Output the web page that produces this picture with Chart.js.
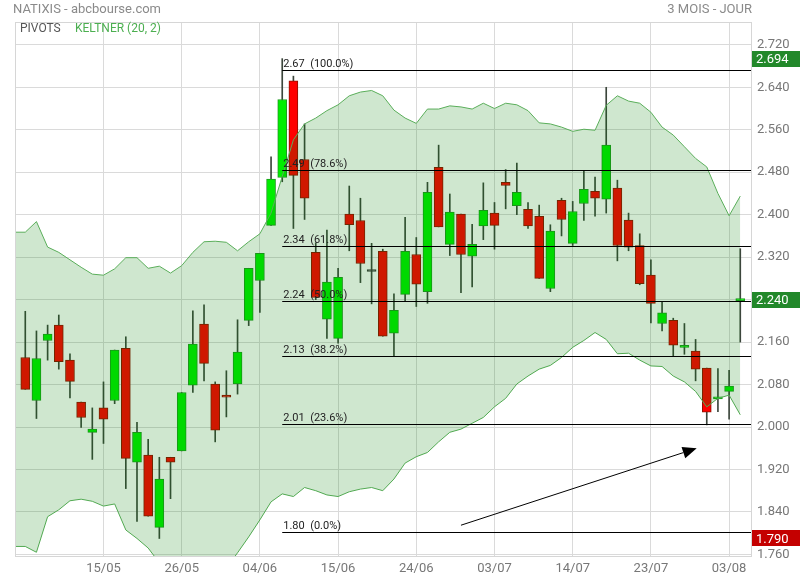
<!DOCTYPE html>
<html>
<head>
<meta charset="utf-8">
<title>NATIXIS - abcbourse.com</title>
<script src="https://cdn.jsdelivr.net/npm/chart.js@4.4.1/dist/chart.umd.min.js"></script>
<style>
    html, body { margin: 0; padding: 0; background: #fff; }
    #wrap { width: 800px; height: 580px; }
</style>
</head>
<body>
<div id="wrap"><canvas id="chart" width="800" height="580"></canvas></div>
<script>
// Daily sessions (index 0 = first candle)
const opens = [2.131, 2.050, 2.163, 2.192, 2.126, 2.047, 1.990, 2.036, 2.050, 2.148,
    1.934, 1.947, 1.811, 1.943, 1.955, 2.079, 2.194, 2.081, 2.060, 2.081,
    2.201, 2.276, 2.380, 2.470, 2.652, 2.504, 2.329, 2.203, 2.167, 2.401,
    2.389, 2.293, 2.331, 2.177, 2.250, 2.325, 2.255, 2.489, 2.344, 2.401,
    2.322, 2.379, 2.403, 2.461, 2.417, 2.410, 2.397, 2.261, 2.427, 2.346,
    2.421, 2.444, 2.429, 2.450, 2.390, 2.342, 2.286, 2.195, 2.201, 2.150,
    2.143, 2.111, 2.053, 2.067, 2.238];
const highs = [2.218, 2.181, 2.192, 2.211, 2.138, 2.047, 2.036, 2.085, 2.145, 2.170,
    2.009, 1.977, 1.943, 1.943, 2.065, 2.219, 2.230, 2.085, 2.106, 2.202,
    2.299, 2.327, 2.509, 2.694, 2.661, 2.571, 2.347, 2.371, 2.299, 2.454,
    2.431, 2.346, 2.335, 2.251, 2.395, 2.357, 2.461, 2.531, 2.439, 2.401,
    2.382, 2.460, 2.423, 2.485, 2.497, 2.423, 2.418, 2.381, 2.431, 2.425,
    2.482, 2.471, 2.640, 2.465, 2.403, 2.364, 2.315, 2.236, 2.205, 2.195,
    2.165, 2.111, 2.110, 2.107, 2.336];
const lows = [2.071, 2.016, 2.126, 2.109, 2.055, 1.999, 1.939, 1.969, 2.044, 1.884,
    1.822, 1.832, 1.790, 1.865, 1.955, 2.065, 2.087, 1.972, 2.019, 2.062,
    2.191, 2.216, 2.380, 2.462, 2.374, 2.391, 2.240, 2.167, 2.158, 2.332,
    2.272, 2.232, 2.171, 2.134, 2.238, 2.227, 2.233, 2.377, 2.323, 2.253,
    2.264, 2.353, 2.335, 2.411, 2.400, 2.374, 2.280, 2.255, 2.360, 2.342,
    2.389, 2.397, 2.403, 2.313, 2.332, 2.268, 2.196, 2.181, 2.134, 2.137,
    2.087, 2.004, 2.029, 2.015, 2.160];
const closes = [2.071, 2.129, 2.175, 2.123, 2.086, 2.018, 1.996, 2.015, 2.145, 1.941,
    1.990, 1.832, 1.902, 1.934, 2.065, 2.156, 2.120, 1.994, 2.056, 2.141,
    2.299, 2.327, 2.467, 2.617, 2.474, 2.431, 2.244, 2.273, 2.282, 2.381,
    2.308, 2.293, 2.171, 2.220, 2.331, 2.269, 2.442, 2.377, 2.405, 2.325,
    2.344, 2.408, 2.380, 2.455, 2.442, 2.379, 2.280, 2.369, 2.391, 2.406,
    2.448, 2.431, 2.531, 2.342, 2.339, 2.270, 2.233, 2.215, 2.154, 2.153,
    2.109, 2.028, 2.057, 2.077, 2.240];

// Keltner (20, 2) bands, first value is the session before the first candle
const keltnerUpper = [2.367, 2.367, 2.387, 2.339, 2.329, 2.315, 2.301, 2.288, 2.286, 2.298,
    2.319, 2.319, 2.299, 2.303, 2.290, 2.304, 2.329, 2.349, 2.350, 2.348,
    2.332, 2.349, 2.364, 2.403, 2.472, 2.541, 2.571, 2.582, 2.596, 2.607,
    2.624, 2.631, 2.634, 2.624, 2.597, 2.582, 2.572, 2.599, 2.599, 2.605,
    2.603, 2.599, 2.610, 2.600, 2.610, 2.607, 2.596, 2.573, 2.571, 2.565,
    2.557, 2.561, 2.559, 2.606, 2.624, 2.614, 2.610, 2.593, 2.565, 2.550,
    2.528, 2.506, 2.490, 2.440, 2.398, 2.435];
const keltnerLower = [1.775, 1.775, 1.764, 1.831, 1.844, 1.861, 1.864, 1.860, 1.851, 1.855,
    1.806, 1.790, 1.772, 1.744, 1.740, 1.716, 1.695, 1.691, 1.700, 1.734,
    1.763, 1.793, 1.825, 1.859, 1.874, 1.869, 1.886, 1.880, 1.872, 1.869,
    1.878, 1.883, 1.886, 1.880, 1.902, 1.932, 1.944, 1.952, 1.972, 1.990,
    1.996, 2.007, 2.018, 2.038, 2.054, 2.081, 2.096, 2.109, 2.116, 2.131,
    2.150, 2.163, 2.178, 2.165, 2.138, 2.139, 2.126, 2.115, 2.114, 2.096,
    2.085, 2.067, 2.038, 2.054, 2.060, 2.023];

// Fibonacci pivots drawn from the top candle
const pivotStart = 23;
const pivotLevels = [2.672, 2.484, 2.341, 2.237, 2.134, 2.006, 1.802];
const pivotLabels = ['2.67  (100.0%)', '2.49  (78.6%)', '2.34  (61.8%)', '2.24  (50.0%)',
    '2.13  (38.2%)', '2.01  (23.6%)', '1.80  (0.0%)'];

// Axes
const xTickIndex = [7, 14, 21, 28, 35, 42, 49, 56, 63];
const xTickLabels = ['15/05', '26/05', '04/06', '15/06', '24/06', '03/07', '14/07', '23/07', '03/08'];
const yTicks = [1.76, 1.84, 1.92, 2.00, 2.08, 2.16, 2.24, 2.32, 2.40, 2.48, 2.56, 2.64, 2.72];

// Highlighted prices on the right axis
const markValues = [2.694, 2.240, 1.790];
const markColors = ['#22882a', '#22882a', '#c40000'];

// Trend arrow [index, price]
const arrowFrom = [39.0, 1.815];
const arrowTo = [60.1, 1.960];

const GREEN = '#00ee00';
const RED = '#ff0000';

function candleColor(i) {
    if (closes[i] > opens[i]) return GREEN;
    if (closes[i] < opens[i]) return RED;
    return '#3a3a3a';
}

function candleBorder(i) {
    if (closes[i] > opens[i]) return '#1f9a1f';
    if (closes[i] < opens[i]) return '#8c1200';
    return '#3a3a3a';
}

const bodies = opens.map((o, i) => ({ x: i, y: [o, closes[i]] }));
const wicks = highs.map((h, i) => ({ x: i, y: [lows[i], h] }));
const upperPts = keltnerUpper.map((v, i) => ({ x: i - 1, y: v }));
const lowerPts = keltnerLower.map((v, i) => ({ x: i - 1, y: v }));

// Overlays: pivots, arrow, title, legend, price boxes
const overlayPlugin = {
    id: 'overlay',
    afterDatasetsDraw(chart) {
        const { ctx, chartArea, scales } = chart;
        const x0 = scales.x.getPixelForValue(pivotStart);
        ctx.save();
        ctx.font = '11px Roboto';
        ctx.textBaseline = 'bottom';
        ctx.textAlign = 'left';
        pivotLevels.forEach((lvl, i) => {
            const y = Math.round(scales.y.getPixelForValue(lvl)) + 0.5;
            ctx.strokeStyle = '#000';
            ctx.lineWidth = 1;
            ctx.beginPath();
            ctx.moveTo(x0, y);
            ctx.lineTo(chartArea.right, y);
            ctx.stroke();
            ctx.fillStyle = '#222';
            ctx.fillText(pivotLabels[i], x0 + 1, y - 1);
        });

        // arrow
        const ax = scales.x.getPixelForValue(arrowFrom[0]);
        const ay = scales.y.getPixelForValue(arrowFrom[1]);
        const bx = scales.x.getPixelForValue(arrowTo[0]);
        const by = scales.y.getPixelForValue(arrowTo[1]);
        const ang = Math.atan2(by - ay, bx - ax);
        const len = 14, half = 6;
        const hx = bx - len * Math.cos(ang), hy = by - len * Math.sin(ang);
        ctx.strokeStyle = '#000';
        ctx.beginPath();
        ctx.moveTo(ax, ay);
        ctx.lineTo(hx, hy);
        ctx.stroke();
        ctx.fillStyle = '#000';
        ctx.beginPath();
        ctx.moveTo(bx, by);
        ctx.lineTo(hx + half * Math.sin(ang), hy - half * Math.cos(ang));
        ctx.lineTo(hx - half * Math.sin(ang), hy + half * Math.cos(ang));
        ctx.closePath();
        ctx.fill();
        ctx.restore();
    },
    afterDraw(chart) {
        const { ctx, chartArea, scales } = chart;
        ctx.save();
        // frame
        ctx.strokeStyle = '#d6d6d6';
        ctx.lineWidth = 1;
        ctx.strokeRect(chartArea.left + 0.5, chartArea.top + 0.5,
            chartArea.right - chartArea.left, chartArea.bottom - chartArea.top);

        // header
        ctx.font = '13px Roboto';
        ctx.textBaseline = 'middle';
        ctx.fillStyle = '#8a8a8a';
        ctx.textAlign = 'left';
        ctx.fillText('NATIXIS - abcbourse.com', 13, 10);
        ctx.textAlign = 'right';
        ctx.fillText('3 MOIS - JOUR', 752, 10);

        // legend
        ctx.font = '12px Roboto';
        ctx.textAlign = 'left';
        ctx.fillStyle = '#555';
        ctx.fillText('PIVOTS', 20, 29);
        ctx.fillStyle = '#4caf50';
        ctx.fillText('KELTNER (20, 2)', 75, 29);

        // price boxes
        ctx.font = '13px Roboto';
        markValues.forEach((v, i) => {
            const y = scales.y.getPixelForValue(v);
            ctx.fillStyle = markColors[i];
            ctx.fillRect(chartArea.right + 1, Math.round(y - 8), 48, 16);
            ctx.fillStyle = '#fff';
            ctx.fillText(v.toFixed(3), chartArea.right + 5, y + 1);
        });
        ctx.restore();
    }
};

Chart.defaults.font.family = 'Roboto';

new Chart(document.getElementById('chart').getContext('2d'), {
    data: {
        datasets: [
            {
                type: 'line',
                label: 'Keltner haut',
                data: upperPts,
                borderColor: '#5aae5a',
                borderWidth: 1,
                pointRadius: 0,
                tension: 0,
                fill: '+1',
                backgroundColor: 'rgba(0,128,0,0.19)',
                order: 0,
            },
            {
                type: 'line',
                label: 'Keltner bas',
                data: lowerPts,
                borderColor: '#5aae5a',
                borderWidth: 1,
                pointRadius: 0,
                tension: 0,
                fill: false,
                order: 0,
            },
            {
                type: 'bar',
                label: 'Corps',
                data: bodies,
                backgroundColor: opens.map((o, i) => candleColor(i)),
                borderColor: opens.map((o, i) => candleBorder(i)),
                borderWidth: 1,
                borderSkipped: false,
                barThickness: 9,
                minBarLength: 2,
                grouped: false,
                order: 1,
            },
            {
                type: 'bar',
                label: 'Mèches',
                data: wicks,
                backgroundColor: '#3c463c',
                borderWidth: 0,
                barThickness: 1,
                grouped: false,
                order: 2,
            },
        ],
    },
    options: {
        responsive: false,
        animation: false,
        events: [],
        layout: { padding: { left: 15, top: 22, right: 0, bottom: 0 } },
        plugins: {
            legend: { display: false },
            tooltip: { enabled: false },
        },
        scales: {
            x: {
                type: 'linear',
                offset: false,
                min: -0.92,
                max: 64.96,
                afterFit: (s) => { s.height = 24; },
                afterBuildTicks: (s) => { s.ticks = xTickIndex.map((v) => ({ value: v })); },
                grid: { color: '#dadada', drawTicks: false, offset: false },
                border: { display: false },
                ticks: {
                    color: '#777',
                    font: { size: 13 },
                    padding: 5,
                    maxRotation: 0,
                    autoSkip: false,
                    callback: (v) => xTickLabels[xTickIndex.indexOf(v)],
                },
            },
            y: {
                position: 'right',
                min: 1.757,
                max: 2.763,
                afterFit: (s) => { s.width = 49; },
                afterBuildTicks: (s) => { s.ticks = yTicks.map((v) => ({ value: v })); },
                grid: { color: '#dadada', drawTicks: false },
                border: { display: false },
                ticks: {
                    color: '#777',
                    font: { size: 13 },
                    padding: 6,
                    callback: (v) => Number(v).toFixed(3),
                },
            },
        },
    },
    plugins: [overlayPlugin],
});
</script>
</body>
</html>
